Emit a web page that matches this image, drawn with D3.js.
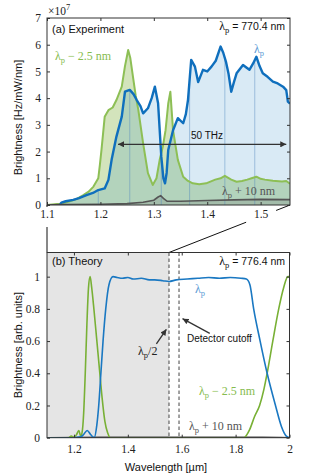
<!DOCTYPE html>
<html>
<head>
<meta charset="UTF-8">
<script src="https://d3js.org/d3.v7.min.js"></script>
<style>
  body { margin: 0; background: #fff; }
  svg { display: block; }
</style>
</head>
<body>
<div id="chart"></div>
<script>
// ---- (a) experiment, brightness in units of 1e7 Hz/mW/nm ----
const expBlueWl = [1.124,1.127,1.135,1.149,1.160,1.174,1.186,1.196,1.208,1.215,1.221,1.230,1.240,1.246,1.255,1.262,1.268,1.275,1.280,1.289,1.296,1.302,1.308,1.314,1.318,1.321,1.324,1.327,1.336,1.345,1.355,1.360,1.364,1.370,1.377,1.383,1.392,1.400,1.408,1.416,1.425,1.430,1.435,1.440,1.445,1.450,1.455,1.467,1.479,1.486,1.492,1.498,1.504,1.513,1.523,1.532,1.542,1.548,1.551,1.555];
const expBlue   = [0,0.09,0.14,0.19,0.26,0.37,0.45,0.56,0.62,0.94,1.69,2.56,3.31,4.24,4.31,4.15,3.93,3.70,3.43,3.62,4.00,4.43,3.81,1.81,1.00,0.81,1.20,2.06,2.80,3.25,3.06,3.40,3.93,5.43,5.18,4.60,5.06,5.00,5.18,5.40,5.93,5.70,5.37,4.90,4.24,4.60,4.93,5.24,5.06,5.30,5.55,5.20,4.93,4.80,4.62,4.55,4.43,4.30,3.87,3.80];

const expGreenWl = [1.100,1.124,1.140,1.155,1.168,1.178,1.187,1.196,1.199,1.202,1.208,1.215,1.223,1.230,1.240,1.246,1.252,1.256,1.261,1.266,1.271,1.280,1.289,1.298,1.305,1.311,1.317,1.322,1.327,1.331,1.336,1.345,1.355,1.364,1.373,1.385,1.398,1.415,1.425,1.433,1.445,1.455,1.465,1.475,1.483,1.492,1.500,1.508,1.523,1.540,1.548,1.555];
const expGreen   = [0,0.05,0.12,0.22,0.37,0.50,0.69,1.00,1.50,2.06,3.30,3.55,3.65,3.93,4.43,5.20,5.80,5.50,4.80,4.10,3.56,2.31,1.19,0.75,1.00,1.69,2.20,2.80,3.80,4.24,2.80,1.69,1.06,0.90,0.81,0.78,0.81,0.95,1.00,1.09,0.95,0.87,0.90,0.95,1.00,1.06,0.98,0.95,0.91,0.88,0.90,0.80];

const expGrayWl = [1.100,1.124,1.200,1.250,1.280,1.300,1.308,1.313,1.318,1.325,1.350,1.400,1.450,1.500,1.555];
const expGray   = [0,0.02,0.03,0.05,0.10,0.18,0.30,0.35,0.25,0.14,0.14,0.17,0.19,0.21,0.20];

// wavelengths where the spectrometer segments are stitched
const stitchWl = [1.196, 1.255, 1.314, 1.367, 1.433, 1.489];

// ---- (b) theory, arb. units ----
const thBlueWl = [1.10,1.20,1.225,1.236,1.249,1.262,1.275,1.285,1.292,1.300,1.308,1.318,1.330,1.345,1.36,1.38,1.40,1.42,1.45,1.48,1.50,1.53,1.553,1.58,1.62,1.66,1.70,1.74,1.78,1.82,1.84,1.853,1.867,1.891,1.917,1.948,1.970,1.988,2.00];
const thBlue   = [0,0,0.005,0.02,0.045,0.02,0,0.08,0.2,0.4,0.6,0.8,0.95,1.0,0.995,0.99,0.995,0.985,0.99,0.98,0.98,0.975,0.97,0.98,0.985,0.99,0.995,0.99,0.995,0.99,0.985,0.95,0.8,0.6,0.4,0.2,0.07,0.01,0];

const thGreenWl = [1.10,1.18,1.19,1.20,1.21,1.218,1.225,1.230,1.236,1.242,1.248,1.254,1.260,1.266,1.274,1.284,1.295,1.305,1.315,1.325,1.335,1.60,1.83,1.852,1.870,1.889,1.905,1.917,1.938,1.960,1.978,1.994,2.00];
const thGreen   = [0,0,0.01,0.003,0.02,0.045,0.01,0.03,0.15,0.4,0.7,0.93,1.0,0.93,0.8,0.62,0.42,0.24,0.1,0.03,0,0,0,0.05,0.13,0.2,0.3,0.4,0.6,0.8,0.93,1.0,1.0];

const thGrayWl = [1.10,1.30,1.50,1.70,1.90,2.00];
const thGray   = [0,0.002,0.003,0.003,0.002,0];

const halfPump = 1.5528;      // lambda_p / 2 marker
const detCutoff = 1.59;

const topTicksX = [1.1, 1.2, 1.3, 1.4, 1.5];
const topTicksY = [0, 1, 2, 3, 4, 5, 6, 7];
const botTicksX = [1.2, 1.4, 1.6, 1.8, 2.0];
const botTicksY = [0, 0.2, 0.4, 0.6, 0.8, 1];

const zip = (a, b) => a.map((w, i) => ({ w, v: b[i] }));

const W = 314, H = 475;
const SANS = '"Liberation Sans", Arial, sans-serif';
const SERIF = '"Liberation Serif", "DejaVu Serif", serif';
const C_BLUE = "#0f6fbd";

const P1 = { l: 47, r: 290, t: 18, b: 205 };
const P2 = { l: 47, r: 289.5, t: 252.5, b: 437.7 };

const x1 = d3.scaleLinear().domain([1.1, 1.555]).range([P1.l, P1.r]);
const y1 = d3.scaleLinear().domain([0, 7]).range([P1.b, P1.t]);
const x2 = d3.scaleLinear().domain([1.1, 2.0]).range([P2.l, P2.r]);
const y2 = d3.scaleLinear().domain([0, 1.15]).range([P2.b, P2.t]);

const svg = d3.select("#chart").append("svg").attr("width", W).attr("height", H);
const defs = svg.append("defs");

defs.append("marker").attr("id", "ah")
  .attr("viewBox", "0 0 10 10").attr("refX", 10).attr("refY", 5)
  .attr("markerWidth", 7).attr("markerHeight", 6)
  .attr("markerUnits", "userSpaceOnUse").attr("orient", "auto-start-reverse")
  .append("path").attr("d", "M0,0L10,5L0,10z").attr("fill", "#333");

defs.append("clipPath").attr("id", "clip1").append("rect")
  .attr("x", P1.l).attr("y", P1.t).attr("width", P1.r - P1.l).attr("height", P1.b - P1.t);
defs.append("clipPath").attr("id", "clip2").append("rect")
  .attr("x", P2.l).attr("y", P2.t).attr("width", P2.r - P2.l).attr("height", P2.b - P2.t);

// lambda_p style label: λ with subscript p, then the rest
function lamLabel(g, x, y, rest, color, anchor, restFont) {
  const t = g.append("text").attr("x", x).attr("y", y)
    .attr("fill", color).attr("font-family", SERIF).attr("font-size", 12)
    .attr("text-anchor", anchor || "start");
  t.append("tspan").text("λ");
  t.append("tspan").attr("dy", 3).attr("font-size", 8.5).text("p");
  if (rest) {
    const s = t.append("tspan").attr("dy", -3).text(rest);
    if (restFont) s.attr("font-family", restFont).attr("font-size", 10.5);
  }
  return t;
}

// ---- connectors between the two panels ----
const conn = svg.append("g").attr("stroke", "#111").attr("stroke-width", 1);
conn.append("line")
  .attr("x1", x1(1.1)).attr("y1", P1.b).attr("x2", x2(1.1)).attr("y2", P2.t);
conn.append("line")
  .attr("x1", x1(1.555)).attr("y1", P1.b).attr("x2", x2(halfPump)).attr("y2", P2.t);

function drawAxes(xs, ys, P, xt, yt, xfmt, yfmt, xpad, ypad, maskLabels) {
  const g = svg.append("g");
  const gx = g.append("g").attr("transform", `translate(0,${P.b})`)
    .call(d3.axisBottom(xs).tickValues(xt).tickSizeInner(-3).tickSizeOuter(0).tickPadding(xpad).tickFormat(xfmt));
  g.append("g").attr("transform", `translate(0,${P.t})`)
    .call(d3.axisTop(xs).tickValues(xt).tickSizeInner(-3).tickSizeOuter(0).tickFormat(""));
  g.append("g").attr("transform", `translate(${P.l},0)`)
    .call(d3.axisLeft(ys).tickValues(yt).tickSizeInner(-3).tickSizeOuter(0).tickPadding(ypad).tickFormat(yfmt));
  g.append("g").attr("transform", `translate(${P.r},0)`)
    .call(d3.axisRight(ys).tickValues(yt).tickSizeInner(-3).tickSizeOuter(0).tickFormat(""));
  g.selectAll(".domain").remove();
  g.selectAll(".tick line").attr("stroke", "#333");
  g.selectAll("text").attr("font-family", SERIF).attr("font-size", 11.5).attr("fill", "#222");
  if (maskLabels) {
    gx.selectAll(".tick").insert("rect", "text")
      .attr("x", -15).attr("y", 2).attr("width", 30).attr("height", 20).attr("fill", "#fff");
  }
  g.append("rect").attr("x", P.l).attr("y", P.t)
    .attr("width", P.r - P.l).attr("height", P.b - P.t)
    .attr("fill", "none").attr("stroke", "#333").attr("stroke-width", 1);
  return g;
}

// ================= panel (a) =================
const pa = svg.append("g").attr("clip-path", "url(#clip1)");
const area1 = d3.area().x(d => x1(d.w)).y0(y1(0)).y1(d => y1(d.v));
const line1 = d3.line().x(d => x1(d.w)).y(d => y1(d.v));

const blueData = zip(expBlueWl, expBlue);
const greenData = zip(expGreenWl, expGreen);
const grayData = zip(expGrayWl, expGray);

pa.append("path").attr("d", area1(greenData)).attr("fill", "rgba(119,172,48,0.32)");
pa.append("path").attr("d", area1(blueData)).attr("fill", "rgba(0,114,189,0.15)");
pa.append("path").attr("d", area1(grayData)).attr("fill", "rgba(110,110,110,0.22)");

defs.append("clipPath").attr("id", "blueArea").append("path").attr("d", area1(blueData));
pa.append("g").attr("clip-path", "url(#blueArea)")
  .selectAll("line").data(stitchWl).join("line")
  .attr("x1", d => x1(d)).attr("x2", d => x1(d))
  .attr("y1", y1(0)).attr("y2", y1(7))
  .attr("stroke", "rgba(80,135,190,0.45)").attr("stroke-width", 1);

pa.append("path").attr("d", line1(greenData)).attr("fill", "none")
  .attr("stroke", "#8dbf55").attr("stroke-width", 2).attr("stroke-linejoin", "round");
pa.append("path").attr("d", line1(blueData)).attr("fill", "none")
  .attr("stroke", C_BLUE).attr("stroke-width", 2.4).attr("stroke-linejoin", "round");
pa.append("path").attr("d", line1(grayData)).attr("fill", "none")
  .attr("stroke", "#555").attr("stroke-width", 1.6);

// 50 THz span
pa.append("line")
  .attr("x1", x1(1.548)).attr("y1", y1(2.27)).attr("x2", x1(1.233)).attr("y2", y1(2.27))
  .attr("stroke", "#333").attr("stroke-width", 1.3)
  .attr("marker-start", "url(#ah)").attr("marker-end", "url(#ah)");

drawAxes(x1, y1, P1, topTicksX, topTicksY, d3.format(".1f"), d3.format("d"), 4.5, 6, true);

const ta = svg.append("g");
ta.append("text").attr("x", 52).attr("y", 33)
  .attr("font-family", SANS).attr("font-size", 11).attr("fill", "#111").text("(a) Experiment");
lamLabel(ta, 285, 30, " = 770.4 nm", "#111", "end", SANS);
lamLabel(ta, 55, 60, " − 2.5 nm", "#86bc4e", "start");
lamLabel(ta, 254, 53, "", "#5b9bd5", "start");
lamLabel(ta, 222, 195, " + 10 nm", "#555", "start");
ta.append("text").attr("x", 207).attr("y", 139).attr("text-anchor", "middle")
  .attr("font-family", SANS).attr("font-size", 10).attr("fill", "#111").text("50 THz");
const ex = ta.append("text").attr("x", 48).attr("y", 15)
  .attr("font-family", SERIF).attr("font-size", 11.5).attr("fill", "#222");
ex.append("tspan").text("×10");
ex.append("tspan").attr("dy", -5).attr("font-size", 8.5).text("7");
ta.append("text").attr("transform", `translate(22,${(P1.t + P1.b) / 2 + 6}) rotate(-90)`)
  .attr("text-anchor", "middle").attr("font-family", SANS).attr("font-size", 11)
  .attr("fill", "#111").text("Brightness [Hz/mW/nm]");

// ================= panel (b) =================
svg.append("rect").attr("x", x2(1.1)).attr("y", P2.t)
  .attr("width", x2(halfPump) - x2(1.1)).attr("height", P2.b - P2.t)
  .attr("fill", "#e5e5e5");

const pb = svg.append("g").attr("clip-path", "url(#clip2)");
const line2 = d3.line().x(d => x2(d.w)).y(d => y2(d.v)).curve(d3.curveMonotoneX);

pb.selectAll(".vmark").data([halfPump, detCutoff]).join("line")
  .attr("x1", d => x2(d)).attr("x2", d => x2(d)).attr("y1", P2.t).attr("y2", P2.b)
  .attr("stroke", "#444").attr("stroke-width", 1).attr("stroke-dasharray", "3.5,2.5");

pb.append("path").attr("d", line2(zip(thGrayWl, thGray))).attr("fill", "none")
  .attr("stroke", "#444").attr("stroke-width", 1.6);
pb.append("path").attr("d", line2(zip(thGreenWl, thGreen))).attr("fill", "none")
  .attr("stroke", "#78b035").attr("stroke-width", 1.6);
pb.append("path").attr("d", line2(zip(thBlueWl, thBlue))).attr("fill", "none")
  .attr("stroke", "#1a78c2").attr("stroke-width", 1.6);

drawAxes(x2, y2, P2, botTicksX, botTicksY, d3.format("~g"), d3.format("~g"), 7.3, 7, false);

const tb = svg.append("g");
tb.append("text").attr("x", 52).attr("y", 265)
  .attr("font-family", SANS).attr("font-size", 11).attr("fill", "#111").text("(b) Theory");
lamLabel(tb, 285, 265, " = 776.4 nm", "#111", "end", SANS);
lamLabel(tb, 195, 293, "", "#5b9bd5", "start");
lamLabel(tb, 199, 395, " − 2.5 nm", "#86bc4e", "start");
lamLabel(tb, 189, 430, " + 10 nm", "#555", "start");
lamLabel(tb, 138, 355, "/2", "#222", "start");
tb.append("text").attr("x", 187).attr("y", 342)
  .attr("font-family", SANS).attr("font-size", 10).attr("fill", "#111").text("Detector cutoff");

tb.append("line")
  .attr("x1", x2(1.704)).attr("y1", y2(0.648)).attr("x2", x2(1.603)).attr("y2", y2(0.739))
  .attr("stroke", "#333").attr("stroke-width", 1.3).attr("marker-end", "url(#ah)");
tb.append("line")
  .attr("x1", x2(1.506)).attr("y1", y2(0.582)).attr("x2", x2(1.543)).attr("y2", y2(0.673))
  .attr("stroke", "#333").attr("stroke-width", 1.3).attr("marker-end", "url(#ah)");

tb.append("text").attr("transform", `translate(22,${(P2.t + P2.b) / 2}) rotate(-90)`)
  .attr("text-anchor", "middle").attr("font-family", SANS).attr("font-size", 11)
  .attr("fill", "#111").text("Brightness [arb. units]");
tb.append("text").attr("x", 166).attr("y", 471).attr("text-anchor", "middle")
  .attr("font-family", SANS).attr("font-size", 11).attr("fill", "#111").text("Wavelength [µm]");
</script>
</body>
</html>
